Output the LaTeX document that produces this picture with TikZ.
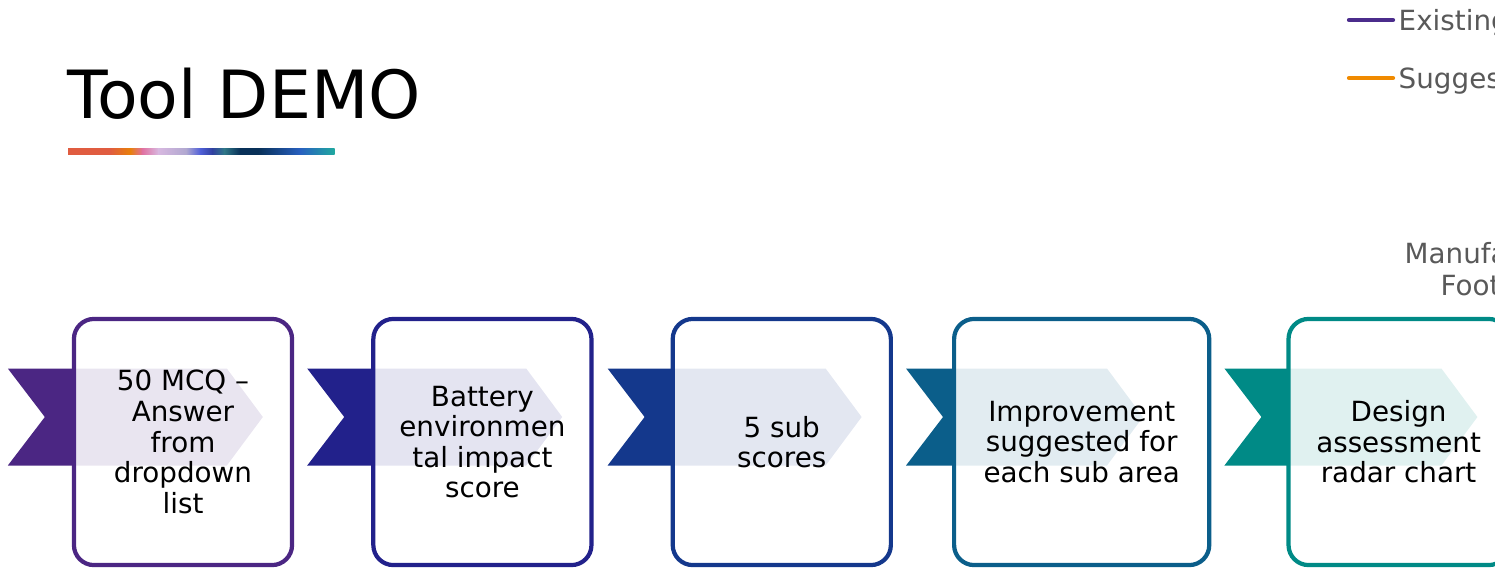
\documentclass[tikz,border=0pt]{standalone}
\usepackage{fontspec}
\setmainfont{DejaVu Sans}
\usetikzlibrary{positioning,calc,backgrounds}

% step colours, left to right
\definecolor{stepA}{HTML}{4B2683}
\definecolor{stepB}{HTML}{22218B}
\definecolor{stepC}{HTML}{14388C}
\definecolor{stepD}{HTML}{0B5E8A}
\definecolor{stepE}{HTML}{008A86}
% legend and side text
\definecolor{legexist}{HTML}{4B2C8C}
\definecolor{legsugg}{HTML}{F08A00}
\definecolor{greytext}{HTML}{595959}
% colour bar under the title
\definecolor{barA}{HTML}{E05C40}
\definecolor{barB}{HTML}{E8800A}
\definecolor{barC}{HTML}{E070A0}
\definecolor{barD}{HTML}{D8B8E0}
\definecolor{barE}{HTML}{B0A8D0}
\definecolor{barF}{HTML}{5060D8}
\definecolor{barG}{HTML}{3040A0}
\definecolor{barH}{HTML}{307888}
\definecolor{barI}{HTML}{083058}
\definecolor{barJ}{HTML}{2860C0}
\definecolor{barK}{HTML}{20A8A0}

\begin{document}
\begin{tikzpicture}[
    x=0.01cm, y=0.01cm,
    node distance=0.77cm,
    stepbox/.style={rectangle, draw, line width=1.2pt, rounded corners=0.2cm,
                    minimum width=2.18cm, minimum height=2.46cm, align=center,
                    font=\fontsize{7.9pt}{8.7pt}\selectfont},
    legtext/.style={anchor=base west, inner sep=0pt, text=greytext,
                    font=\fontsize{7.9pt}{9.5pt}\selectfont},
    legline/.style={line width=1.2pt, line cap=round}
]
\useasboundingbox (0,0) rectangle (1495,569);
\clip (0,0) rectangle (1495,569);

% title with its colour bar
\node[anchor=base west, inner sep=0pt, font=\fontsize{18.9pt}{22pt}\selectfont]
    (title) at (67,451) {Tool DEMO};
\foreach \a/\b/\ca/\cb in {68/110/barA/barA, 110/130/barA/barB, 130/142/barB/barC,
                           142/158/barC/barD, 158/186/barD/barE, 186/200/barE/barF,
                           200/212/barF/barG, 212/224/barG/barH, 224/240/barH/barI,
                           240/258/barI/barI, 258/300/barI/barJ, 300/334/barJ/barK}
    \shade[left color=\ca, right color=\cb] (\a,415) rectangle (\b+0.5,421);

% legend
\node[legtext] (exist) at (1398,539) {Existing};
\node[legtext] (sugg)  at (1398,481) {Sugges};
\draw[legline, legexist] ($(exist.base west)+(-5,10)$) -- ++(-44,0);
\draw[legline, legsugg]  ($(sugg.base west)+(-5,10)$) -- ++(-44,0);

\node[legtext] (manuf) at (1404,306) {Manufa};
\node[legtext] (foot)  at (1440,274) {Foot};

% the five steps
\node[stepbox, draw=stepA] (mcq) at (183,127)
    {50 MCQ –\\Answer\\from\\dropdown\\list};
\node[stepbox, draw=stepB, right=of mcq] (impact)
    {Battery\\environmen\\tal impact\\score};
\node[stepbox, draw=stepC, right=of impact] (subs)
    {5 sub\\scores};
\node[stepbox, draw=stepD, right=0.59cm of subs, minimum width=2.55cm] (improve)
    {Improvement\\suggested for\\each sub area};
\node[stepbox, draw=stepE, right=0.75cm of improve, minimum width=2.20cm] (radar)
    {Design\\assessment\\radar chart};

% notched chevron and pale arrow behind each step
\begin{scope}[on background layer]
\foreach \s/\c/\w in {mcq/stepA/66, impact/stepB/66, subs/stepC/65,
                      improve/stepD/48, radar/stepE/64}{
    \fill[\c!12] ($(\s.west)+(0,73.5)$) -- ++(155,0) -- ++(36,-48.5)
        -- ++(-36,-48.5) -- ++(-155,0) -- cycle;
    \fill[\c] ($(\s.west)+(2,73.5)$) -- ++(-\w,0) -- ++(37,-48.5)
        -- ++(-37,-48.5) -- ++(\w,0) -- cycle;
}
\end{scope}
\end{tikzpicture}
\end{document}
